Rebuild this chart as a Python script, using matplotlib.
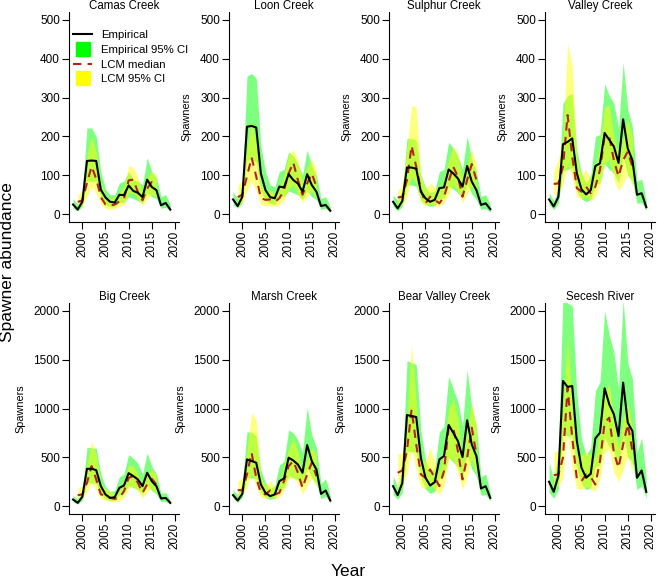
import numpy as np
import matplotlib.pyplot as plt
from matplotlib.lines import Line2D

plt.rcParams['font.family'] = ['Liberation Sans', 'DejaVu Sans']

sites = ['Camas Creek', 'Loon Creek', 'Sulphur Creek', 'Valley Creek',
         'Big Creek', 'Marsh Creek', 'Bear Valley Creek', 'Secesh River']

years_emp = np.arange(1998, 2020)
years_lcm = np.arange(1999, 2017)

# empirical spawner estimates, 1998-2019
emp = [
    [25, 12, 32, 137, 138, 137, 63, 43, 32, 30, 50, 49, 74, 60, 55, 44, 89, 70, 62, 23, 29, 12],
    [38, 21, 45, 225, 227, 223, 105, 62, 44, 41, 71, 69, 103, 88, 79, 58, 103, 75, 58, 21, 24, 9],
    [32, 15, 34, 120, 120, 117, 58, 41, 32, 37, 67, 69, 115, 105, 92, 71, 124, 84, 62, 24, 28, 13],
    [38, 20, 44, 180, 186, 195, 105, 64, 51, 62, 124, 131, 209, 191, 174, 132, 244, 169, 139, 50, 54, 18],
    [68, 34, 96, 383, 383, 369, 205, 120, 85, 92, 188, 212, 338, 308, 274, 205, 342, 256, 205, 79, 85, 34],
    [113, 58, 126, 479, 462, 445, 222, 137, 103, 120, 256, 284, 496, 468, 427, 342, 626, 462, 376, 126, 161, 58],
    [205, 113, 239, 933, 923, 913, 496, 291, 212, 246, 479, 513, 831, 752, 667, 503, 879, 632, 513, 181, 205, 85],
    [250, 147, 308, 1282, 1221, 1231, 667, 393, 291, 332, 694, 752, 1207, 1043, 940, 718, 1265, 855, 769, 291, 366, 147],
]
emp_lo = [
    [15, 8, 20, 85, 85, 85, 45, 25, 20, 20, 30, 30, 45, 40, 35, 28, 55, 45, 40, 15, 18, 8],
    [25, 15, 30, 140, 140, 135, 60, 35, 28, 25, 45, 45, 60, 55, 50, 38, 60, 45, 38, 12, 15, 5],
    [20, 8, 20, 75, 75, 72, 35, 25, 20, 22, 40, 42, 72, 65, 55, 42, 78, 52, 38, 12, 15, 5],
    [25, 12, 28, 110, 115, 120, 60, 40, 32, 38, 75, 80, 130, 115, 105, 80, 150, 100, 85, 28, 30, 10],
    [45, 20, 60, 240, 240, 230, 125, 75, 55, 60, 115, 130, 210, 190, 170, 125, 215, 160, 125, 45, 50, 20],
    [80, 40, 90, 290, 290, 280, 140, 90, 70, 80, 170, 190, 310, 290, 270, 210, 390, 290, 230, 75, 100, 35],
    [120, 70, 140, 560, 560, 550, 300, 175, 130, 150, 290, 310, 500, 450, 400, 300, 530, 380, 310, 110, 120, 50],
    [140, 80, 170, 740, 720, 710, 380, 230, 170, 190, 400, 430, 700, 610, 550, 420, 740, 500, 450, 170, 210, 80],
]
emp_hi = [
    [40, 25, 55, 222, 222, 200, 110, 65, 50, 50, 80, 85, 110, 90, 85, 75, 145, 110, 95, 45, 50, 25],
    [58, 40, 75, 355, 362, 350, 175, 110, 75, 70, 110, 115, 160, 150, 130, 100, 165, 125, 100, 40, 45, 20],
    [50, 35, 60, 195, 195, 190, 100, 70, 55, 60, 110, 115, 185, 170, 150, 115, 200, 140, 110, 45, 50, 25],
    [55, 35, 65, 285, 305, 310, 165, 105, 80, 100, 200, 205, 335, 305, 285, 220, 390, 270, 225, 85, 90, 35],
    [110, 70, 160, 600, 600, 590, 330, 200, 150, 160, 300, 330, 530, 490, 440, 330, 545, 410, 330, 130, 140, 60],
    [170, 110, 240, 760, 760, 720, 370, 240, 180, 210, 420, 460, 780, 750, 680, 550, 1010, 730, 600, 230, 280, 110],
    [310, 190, 380, 1490, 1470, 1450, 780, 470, 350, 390, 760, 820, 1330, 1200, 1070, 820, 1400, 1010, 820, 300, 330, 140],
    [450, 270, 550, 2150, 2080, 2050, 1150, 690, 520, 600, 1180, 1270, 2000, 1750, 1580, 1200, 2120, 1470, 1300, 550, 700, 280],
]

# life cycle model median and 95% CI, 1999-2016
lcm = [
    [32, 35, 80, 123, 91, 44, 25, 22, 25, 33, 40, 87, 89, 57, 36, 66, 83, 72],
    [44, 50, 97, 146, 97, 41, 37, 38, 32, 41, 62, 105, 133, 88, 50, 79, 105, 71],
    [43, 45, 88, 176, 122, 62, 28, 45, 37, 28, 45, 84, 122, 97, 45, 88, 129, 88],
    [78, 79, 122, 255, 148, 67, 58, 71, 54, 71, 114, 201, 199, 139, 97, 139, 161, 122],
    [113, 120, 239, 410, 274, 120, 113, 85, 75, 85, 154, 290, 308, 239, 137, 222, 280, 222],
    [164, 164, 325, 547, 291, 137, 120, 161, 120, 137, 256, 410, 462, 342, 188, 325, 444, 308],
    [342, 366, 564, 991, 632, 325, 291, 376, 291, 205, 359, 803, 803, 564, 274, 496, 803, 530],
    [318, 325, 496, 1214, 701, 280, 256, 325, 297, 222, 462, 855, 906, 547, 393, 632, 838, 564],
]
lcm_lo = [
    [18, 20, 45, 70, 55, 25, 15, 12, 15, 20, 25, 55, 55, 40, 22, 40, 50, 45],
    [25, 30, 60, 85, 60, 25, 22, 22, 20, 25, 35, 65, 75, 50, 30, 45, 60, 40],
    [22, 25, 45, 95, 80, 30, 22, 25, 22, 20, 30, 50, 75, 60, 30, 50, 75, 50],
    [50, 55, 75, 130, 95, 45, 40, 45, 35, 45, 75, 130, 140, 90, 60, 80, 105, 70],
    [70, 80, 150, 240, 160, 70, 65, 50, 45, 50, 90, 180, 200, 150, 85, 140, 180, 140],
    [100, 110, 200, 330, 200, 90, 80, 100, 80, 90, 160, 280, 300, 230, 120, 210, 290, 190],
    [200, 220, 330, 580, 380, 190, 180, 220, 170, 120, 210, 480, 480, 340, 170, 300, 480, 320],
    [200, 210, 300, 780, 380, 180, 170, 200, 180, 150, 280, 550, 580, 350, 250, 380, 520, 330],
]
lcm_hi = [
    [50, 60, 150, 200, 160, 80, 45, 40, 45, 55, 70, 125, 120, 95, 55, 95, 110, 100],
    [75, 85, 170, 240, 180, 75, 60, 60, 55, 70, 100, 155, 165, 140, 85, 120, 140, 115],
    [60, 75, 170, 280, 275, 100, 65, 80, 70, 60, 90, 140, 175, 155, 90, 130, 165, 130],
    [110, 140, 200, 440, 380, 140, 100, 115, 90, 120, 180, 275, 280, 200, 150, 195, 245, 195],
    [180, 210, 420, 670, 520, 220, 180, 150, 130, 150, 250, 420, 410, 330, 210, 310, 380, 320],
    [260, 280, 560, 960, 880, 280, 210, 260, 200, 240, 420, 580, 700, 560, 330, 490, 600, 520],
    [530, 550, 880, 1660, 1060, 490, 450, 600, 450, 350, 580, 1000, 1100, 900, 460, 780, 1050, 830],
    [550, 570, 1000, 1750, 1000, 520, 520, 560, 520, 500, 780, 1150, 1250, 900, 600, 900, 1050, 800],
]

fig = plt.figure(figsize=(6.58, 5.8), dpi=100)
W, H = 658.0, 580.0
col_left = [69, 229, 389, 545]
row_box = [(12, 222), (303, 514)]

for i, name in enumerate(sites):
    r, c = divmod(i, 4)
    top, bot = row_box[r]
    ax = fig.add_axes([col_left[c] / W, 1 - bot / H, 110 / W, (bot - top) / H])
    ax.fill_between(years_emp, emp_lo[i], emp_hi[i], color='#00FF00', alpha=0.5, lw=0)
    ax.fill_between(years_lcm, lcm_lo[i], lcm_hi[i], color='#FFFF00', alpha=0.5, lw=0)
    ax.plot(years_lcm, lcm[i], color='#B22222', lw=1.5, dashes=(4, 3))
    ax.plot(years_emp, emp[i], color='black', lw=1.5)

    ax.set_xlim(1997.12, 2020.88)
    ax.set_xticks([2000, 2005, 2010, 2015, 2020])
    if r == 0:
        ax.set_ylim(-20, 520)
        ax.set_yticks(range(0, 501, 100))
    else:
        ax.set_ylim(-80, 2080)
        ax.set_yticks(range(0, 2001, 500))
    for s in ['top', 'right']:
        ax.spines[s].set_visible(False)
    for s in ['left', 'bottom']:
        ax.spines[s].set_linewidth(0.8)
    ax.tick_params(labelsize=8.5, length=5, width=0.8, pad=1.5)
    ax.tick_params(axis='x', labelrotation=90)
    ax.set_title(name, fontsize=8.3, pad=2)
    if i != 0:
        ax.set_ylabel('Spawners', fontsize=7.8, labelpad=6)

    if i == 0:
        handles = [
            Line2D([], [], color='black', lw=1.5),
            Line2D([], [], ls='none', marker='s', ms=10, mfc='#00FF00', mec='#00FF00'),
            Line2D([], [], color='#B22222', lw=1.5, dashes=(4, 3)),
            Line2D([], [], ls='none', marker='s', ms=10, mfc='#FFFF00', mec='#FFFF00'),
        ]
        ax.legend(handles, ['Empirical', 'Empirical 95% CI', 'LCM median', 'LCM 95% CI'],
                  loc='upper left', bbox_to_anchor=(73 / W, 1 - 30 / H),
                  bbox_transform=fig.transFigure, frameon=False, fontsize=8.2,
                  borderpad=0, borderaxespad=0, handlelength=1.7,
                  handletextpad=0.75, labelspacing=0.42)

fig.text(8 / W, 1 - 262 / H, 'Spawner abundance', rotation=90, ha='center',
         va='center', fontsize=12.5)
fig.text(348 / W, 1 - 571 / H, 'Year', ha='center', va='center', fontsize=12.5)

fig.savefig('out.png', dpi=100)
